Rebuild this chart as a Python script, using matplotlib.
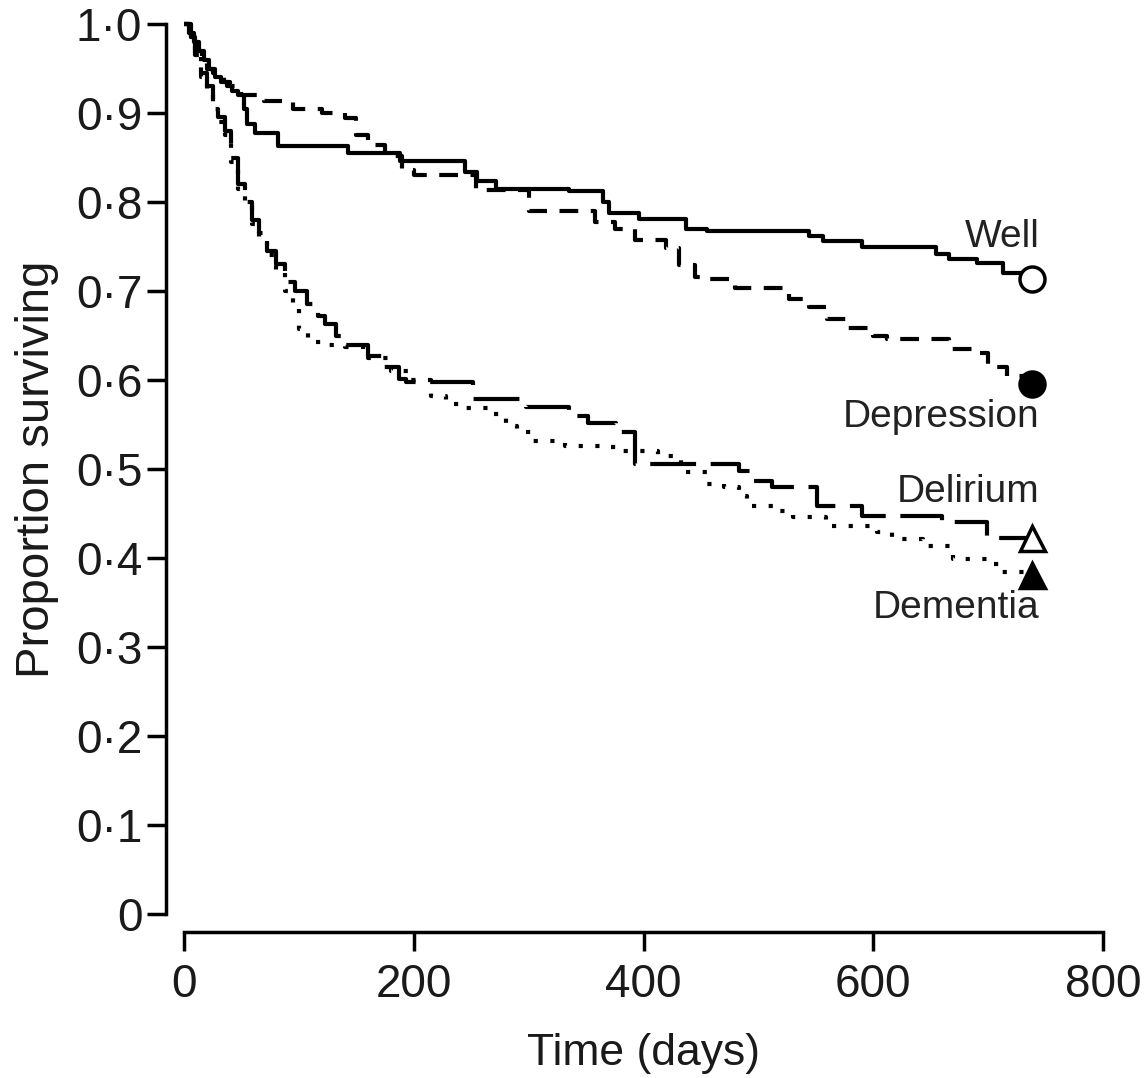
import matplotlib
matplotlib.use("Agg")
import matplotlib.pyplot as plt

plt.rcParams['font.family'] = ['Liberation Sans', 'DejaVu Sans']

# ---- data (Kaplan-Meier step curves) ----
well_t = [0, 5, 9, 13, 17, 22, 27, 32, 37, 42, 47, 52, 55, 62, 82, 143, 188, 245, 255, 272, 335, 365, 370, 396, 437, 455, 544, 556, 590, 655, 666, 690, 713, 738]
well_s = [1.0, 0.99, 0.98, 0.97, 0.96, 0.95, 0.94, 0.935, 0.93, 0.925, 0.92, 0.905, 0.888, 0.877, 0.863, 0.855, 0.846, 0.834, 0.824, 0.815, 0.812, 0.80, 0.788, 0.781, 0.770, 0.767, 0.762, 0.756, 0.749, 0.742, 0.736, 0.731, 0.72, 0.713]

dep_t = [0, 4, 8, 12, 16, 20, 25, 30, 35, 40, 45, 50, 70, 95, 120, 140, 150, 160, 175, 190, 200, 254, 300, 358, 375, 393, 420, 431, 445, 455, 480, 527, 544, 560, 578, 600, 612, 666, 690, 700, 716, 738]
dep_s = [1.0, 0.99, 0.98, 0.97, 0.96, 0.95, 0.945, 0.94, 0.935, 0.93, 0.925, 0.92, 0.913, 0.905, 0.90, 0.894, 0.875, 0.864, 0.852, 0.836, 0.83, 0.813, 0.79, 0.778, 0.770, 0.757, 0.748, 0.729, 0.716, 0.713, 0.703, 0.691, 0.682, 0.669, 0.658, 0.649, 0.646, 0.635, 0.63, 0.615, 0.604, 0.595]

del_t = [0, 6, 10, 15, 20, 25, 30, 36, 41, 47, 53, 59, 65, 72, 80, 88, 97, 107, 117, 123, 132, 140, 160, 173, 187, 193, 252, 298, 335, 352, 376, 393, 483, 494, 512, 551, 590, 660, 699, 738]
del_s = [1.0, 0.985, 0.965, 0.945, 0.93, 0.91, 0.895, 0.88, 0.85, 0.82, 0.80, 0.78, 0.765, 0.745, 0.73, 0.71, 0.70, 0.685, 0.672, 0.663, 0.65, 0.639, 0.627, 0.615, 0.601, 0.598, 0.579, 0.570, 0.56, 0.552, 0.542, 0.506, 0.498, 0.486, 0.48, 0.458, 0.447, 0.441, 0.422, 0.422]

dem_t = [0, 6, 10, 15, 20, 25, 30, 36, 41, 47, 53, 59, 65, 72, 80, 88, 95, 100, 108, 123, 140, 160, 180, 195, 215, 228, 242, 268, 280, 290, 302, 332, 365, 380, 413, 433, 455, 470, 483, 490, 518, 530, 559, 603, 616, 643, 669, 699, 710, 738]
dem_s = [1.0, 0.985, 0.965, 0.94, 0.925, 0.905, 0.89, 0.875, 0.845, 0.815, 0.795, 0.775, 0.76, 0.74, 0.72, 0.70, 0.68, 0.657, 0.643, 0.639, 0.637, 0.625, 0.61, 0.60, 0.582, 0.573, 0.568, 0.562, 0.548, 0.542, 0.532, 0.526, 0.525, 0.52, 0.515, 0.497, 0.483, 0.48, 0.47, 0.458, 0.453, 0.446, 0.436, 0.429, 0.421, 0.413, 0.399, 0.393, 0.384, 0.381]

group_names = ["Well", "Depression", "Delirium", "Dementia"]
label_y = [0.761, 0.558, 0.474, 0.344]
label_x = 745

x_ticks = [0, 200, 400, 600, 800]
y_ticks = [0, 0.1, 0.2, 0.3, 0.4, 0.5, 0.6, 0.7, 0.8, 0.9, 1.0]
y_tick_labels = ["0", "0·1", "0·2", "0·3", "0·4", "0·5", "0·6", "0·7", "0·8", "0·9", "1·0"]

# ---- figure ----
fig = plt.figure(figsize=(11.47, 10.78), dpi=100)
ax = fig.add_axes([184/1147, 1 - 914/1078, (1103-184)/1147, (914-24)/1078])

lw = 3.0
series = [
    (well_t, well_s, '-', 'o', 'white'),
    (dep_t, dep_s, (0, (4.5, 3)), 'o', 'black'),
    (del_t, del_s, (0, (11, 3.5)), '^', 'white'),
    (dem_t, dem_s, (0, (1.0, 3.0)), '^', 'black'),
]
for t, s, ls, mk, mfc in series:
    ax.step(t, s, where='post', color='black', lw=lw, linestyle=ls,
            solid_capstyle='butt', dash_capstyle='butt', clip_on=False)
    ax.plot([t[-1]], [s[-1]], marker=mk, markersize=18, markerfacecolor=mfc,
            markeredgecolor='black', markeredgewidth=2.5, linestyle='none',
            clip_on=False, zorder=5)

for name, yy in zip(group_names, label_y):
    ax.text(label_x, yy, name, ha='right', va='center', fontsize=28, color='#222222')

ax.set_xlim(0, 800)
ax.set_ylim(0, 1.0)
ax.set_xticks(x_ticks)
ax.set_xticklabels([str(v) for v in x_ticks])
ax.set_yticks(y_ticks)
ax.set_yticklabels(y_tick_labels)

for side in ['top', 'right']:
    ax.spines[side].set_visible(False)
ax.spines['left'].set_position(('outward', 13))
ax.spines['bottom'].set_position(('outward', 13))
ax.spines['left'].set_bounds(0, 1.0)
ax.spines['bottom'].set_bounds(0, 800)
for side in ['left', 'bottom']:
    ax.spines[side].set_linewidth(2.5)

ax.tick_params(axis='both', which='major', length=14, width=2.5, labelsize=33,
               colors='black', labelcolor='#1a1a1a')
ax.tick_params(axis='y', pad=3)
ax.tick_params(axis='x', pad=8)

ax.set_xlabel("Time (days)", fontsize=32, labelpad=19, color='#1a1a1a')
ax.set_ylabel("Proportion surviving", fontsize=34, labelpad=12, color='#1a1a1a')

fig.savefig("out.png", dpi=100, facecolor='white')
